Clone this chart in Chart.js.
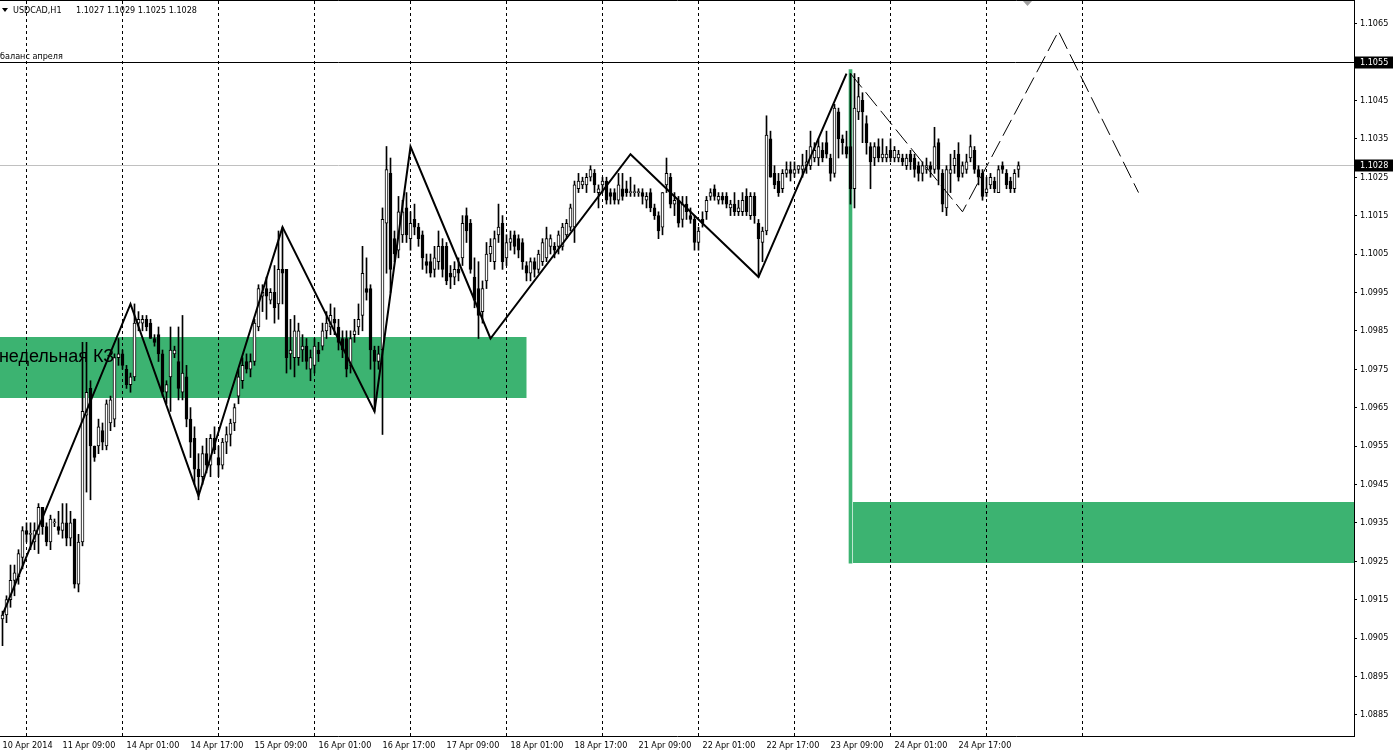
<!DOCTYPE html>
<html lang="ru">
<head>
<meta charset="UTF-8">
<title>USDCAD,H1</title>
<script src="https://cdn.jsdelivr.net/npm/chart.js"></script>
<style>
  html, body { margin: 0; padding: 0; background: #fff; }
  #wrap { width: 1394px; height: 752px; }
</style>
</head>
<body>
<div id="wrap"><canvas id="chart" width="1394" height="752"></canvas></div>
<script>
// USDCAD H1 bars (one entry per hourly bar)
const openP = [
  1.0910,1.0911,1.0915,1.0920,1.0921,1.0926,1.0933,1.0932,1.0930,1.0932,
  1.0939,1.0934,1.0930,1.0935,1.0934,1.0933,1.0935,1.0931,1.0936,1.0919,
  1.0930,1.0963,1.0970,1.0955,1.0955,1.0959,1.0955,1.0961,1.0962,1.0978,
  1.0979,1.0975,1.0971,1.0973,1.0987,1.0987,1.0988,1.0987,1.0983,1.0984,
  1.0979,1.0969,1.0973,1.0979,1.0977,1.0969,1.0973,1.0962,1.0957,1.0949,
  1.0947,1.0953,1.0950,1.0957,1.0952,1.0950,1.0956,1.0958,1.0961,1.0968,
  1.0972,1.0977,1.0975,1.0977,1.0986,1.0994,1.0996,1.0993,1.0995,1.0992,
  1.1001,1.1001,1.0979,1.0978,1.0978,1.0980,1.0981,1.0975,1.0976,1.0980,
  1.0981,1.0985,1.0986,1.0988,1.0986,1.0983,1.0983,1.0976,1.0984,1.0986,
  1.0989,1.0996,1.0996,1.0980,1.0977,1.0980,1.1013,1.1026,1.1009,1.1006,
  1.1010,1.1017,1.1009,1.1014,1.1012,1.1010,1.1003,1.1003,1.1001,1.1003,
  1.1007,1.1007,1.1000,1.0999,1.1001,1.1004,1.1015,1.1013,1.0999,1.0996,
  1.0990,1.0998,1.1005,1.1003,1.1010,1.1013,1.1004,1.1008,1.1010,1.1009,
  1.1008,1.1002,1.1000,1.1003,1.1001,1.1003,1.1004,1.1007,1.1007,1.1007,
  1.1007,1.1010,1.1012,1.1012,1.1022,1.1023,1.1023,1.1025,1.1026,1.1021,
  1.1023,1.1024,1.1021,1.1021,1.1019,1.1022,1.1022,1.1021,1.1021,1.1021,
  1.1021,1.1019,1.1021,1.1017,1.1015,1.1012,1.1023,1.1025,1.1018,1.1019,
  1.1014,1.1018,1.1015,1.1014,1.1008,1.1014,1.1016,1.1020,1.1022,1.1019,
  1.1020,1.1020,1.1017,1.1018,1.1016,1.1016,1.1020,1.1015,1.1020,1.1013,
  1.1008,1.1011,1.1035,1.1026,1.1024,1.1022,1.1026,1.1027,1.1026,1.1027,
  1.1027,1.1028,1.1028,1.1030,1.1030,1.1032,1.1034,1.1030,1.1026,1.1042,
  1.1035,1.1033,1.1033,1.1022,1.1042,1.1045,1.1039,1.1033,1.1030,1.1033,
  1.1030,1.1030,1.1032,1.1030,1.1030,1.1030,1.1028,1.1031,1.1030,1.1028,
  1.1026,1.1027,1.1028,1.1027,1.1034,1.1026,1.1017,1.1026,1.1028,1.1031,
  1.1026,1.1027,1.1030,1.1032,1.1027,1.1026,1.1021,1.1023,1.1024,1.1021,
  1.1028,1.1026,1.1024,1.1022,1.1027
];
const highP = [
  1.0912,1.0916,1.0924,1.0924,1.0928,1.0934,1.0935,1.0935,1.0935,1.0940,
  1.0939,1.0935,1.0937,1.0936,1.0938,1.0940,1.0940,1.0938,1.0936,1.0932,
  1.0982,1.0982,1.0972,1.0955,1.0962,1.0961,1.0967,1.0968,1.0979,1.0983,
  1.0980,1.0976,1.0974,1.0992,1.0990,1.0989,1.0989,1.0988,1.0984,1.0986,
  1.0980,1.0972,1.0986,1.0981,1.0986,1.0989,1.0976,1.0965,1.0960,1.0953,
  1.0955,1.0957,1.0958,1.0960,1.0955,1.0957,1.0960,1.0962,1.0966,1.0975,
  1.0978,1.0979,1.0979,1.0988,1.0997,1.0997,1.0999,1.0996,1.1002,1.1011,
  1.1012,1.1001,1.0988,1.0989,1.0987,1.0984,1.0983,1.0980,1.0983,1.0982,
  1.0987,1.0990,1.0992,1.0991,1.0988,1.0985,1.0985,1.0985,1.0988,1.0992,
  1.1007,1.1004,1.0997,1.0981,1.0981,1.1017,1.1033,1.1030,1.1011,1.1020,
  1.1019,1.1021,1.1016,1.1018,1.1013,1.1011,1.1005,1.1005,1.1007,1.1011,
  1.1009,1.1008,1.1002,1.1003,1.1004,1.1015,1.1017,1.1014,1.1004,1.1003,
  1.0998,1.1008,1.1009,1.1011,1.1018,1.1015,1.1010,1.1011,1.1011,1.1010,
  1.1009,1.1003,1.1004,1.1004,1.1006,1.1009,1.1012,1.1010,1.1008,1.1011,
  1.1013,1.1014,1.1018,1.1024,1.1026,1.1025,1.1026,1.1028,1.1027,1.1023,
  1.1025,1.1025,1.1022,1.1022,1.1026,1.1026,1.1024,1.1025,1.1023,1.1022,
  1.1022,1.1021,1.1022,1.1018,1.1016,1.1021,1.1030,1.1026,1.1021,1.1020,
  1.1020,1.1020,1.1017,1.1015,1.1012,1.1016,1.1020,1.1022,1.1023,1.1021,
  1.1021,1.1021,1.1019,1.1021,1.1019,1.1021,1.1022,1.1021,1.1021,1.1014,
  1.1012,1.1041,1.1037,1.1028,1.1026,1.1027,1.1029,1.1029,1.1029,1.1028,
  1.1031,1.1032,1.1037,1.1034,1.1035,1.1034,1.1037,1.1031,1.1044,1.1043,
  1.1036,1.1037,1.1052,1.1052,1.1051,1.1047,1.1041,1.1034,1.1034,1.1035,
  1.1035,1.1033,1.1035,1.1033,1.1032,1.1031,1.1031,1.1032,1.1031,1.1029,
  1.1029,1.1030,1.1029,1.1038,1.1035,1.1027,1.1028,1.1031,1.1032,1.1034,
  1.1029,1.1031,1.1036,1.1033,1.1028,1.1027,1.1025,1.1026,1.1025,1.1028,
  1.1029,1.1027,1.1025,1.1027,1.1029
];
const lowP = [
  1.0903,1.0909,1.0913,1.0916,1.0919,1.0923,1.0930,1.0928,1.0928,1.0927,
  1.0932,1.0929,1.0928,1.0934,1.0932,1.0931,1.0929,1.0929,1.0918,1.0917,
  1.0929,1.0943,1.0941,1.0951,1.0953,1.0954,1.0954,1.0959,1.0960,1.0976,
  1.0975,1.0970,1.0969,1.0972,1.0985,1.0985,1.0985,1.0983,1.0981,1.0977,
  1.0968,1.0966,1.0964,1.0978,1.0967,1.0967,1.0960,1.0952,1.0945,1.0941,
  1.0945,1.0948,1.0947,1.0953,1.0947,1.0949,1.0953,1.0955,1.0959,1.0966,
  1.0970,1.0974,1.0973,1.0976,1.0985,1.0990,1.0988,1.0992,1.0987,1.0988,
  1.0992,1.0974,1.0975,1.0973,1.0976,1.0977,1.0975,1.0972,1.0974,1.0977,
  1.0980,1.0983,1.0984,1.0984,1.0980,1.0978,1.0973,1.0974,1.0982,1.0984,
  1.0985,1.0993,1.0975,1.0964,1.0975,1.0958,1.1000,1.0995,1.1003,1.1004,
  1.1008,1.1008,1.1006,1.1010,1.1007,1.1001,1.1000,1.0999,1.0999,1.1001,
  1.0999,1.0997,1.0996,1.0997,1.0998,1.1002,1.1008,1.1000,1.0991,1.0983,
  1.0987,1.0996,1.1003,1.1001,1.1008,1.1001,1.1002,1.1006,1.1005,1.1004,
  1.1001,1.0998,1.0998,1.0999,1.1000,1.1002,1.1003,1.1005,1.1004,1.1005,
  1.1006,1.1009,1.1011,1.1008,1.1021,1.1022,1.1021,1.1024,1.1021,1.1017,
  1.1021,1.1018,1.1018,1.1018,1.1018,1.1019,1.1020,1.1020,1.1020,1.1020,
  1.1018,1.1017,1.1016,1.1014,1.1009,1.1010,1.1021,1.1017,1.1015,1.1012,
  1.1012,1.1014,1.1013,1.1006,1.1006,1.1012,1.1014,1.1019,1.1019,1.1018,
  1.1018,1.1017,1.1015,1.1015,1.1015,1.1015,1.1015,1.1014,1.1013,1.0999,
  1.1003,1.1010,1.1025,1.1022,1.1020,1.1021,1.1025,1.1024,1.1025,1.1026,
  1.1025,1.1026,1.1027,1.1029,1.1028,1.1029,1.1030,1.1024,1.1025,1.1030,
  1.1031,1.1030,1.1018,1.1017,1.1040,1.1034,1.1031,1.1022,1.1028,1.1029,
  1.1029,1.1029,1.1029,1.1029,1.1029,1.1028,1.1027,1.1027,1.1025,1.1024,
  1.1024,1.1026,1.1025,1.1026,1.1023,1.1016,1.1015,1.1021,1.1026,1.1024,
  1.1025,1.1026,1.1029,1.1026,1.1023,1.1019,1.1020,1.1022,1.1021,1.1021,
  1.1026,1.1022,1.1021,1.1021,1.1025
];
const closeP = [
  1.0911,1.0915,1.0920,1.0922,1.0927,1.0933,1.0932,1.0932,1.0933,1.0939,
  1.0934,1.0930,1.0936,1.0935,1.0933,1.0935,1.0931,1.0935,1.0919,1.0930,
  1.0964,1.0969,1.0955,1.0952,1.0960,1.0956,1.0966,1.0967,1.0978,1.0979,
  1.0976,1.0971,1.0973,1.0987,1.0988,1.0988,1.0986,1.0983,1.0982,1.0979,
  1.0969,1.0971,1.0980,1.0980,1.0970,1.0974,1.0962,1.0956,1.0949,1.0947,
  1.0953,1.0950,1.0957,1.0954,1.0950,1.0956,1.0958,1.0961,1.0965,1.0973,
  1.0976,1.0975,1.0977,1.0987,1.0996,1.0995,1.0994,1.0995,1.0991,1.1001,
  1.1000,1.0978,1.0980,1.0985,1.0985,1.0981,1.0977,1.0978,1.0981,1.0979,
  1.0985,1.0987,1.0989,1.0987,1.0982,1.0980,1.0975,1.0983,1.0985,1.0988,
  1.1000,1.0995,1.0980,1.0977,1.0979,1.1014,1.1027,1.1001,1.1005,1.1016,
  1.1016,1.1010,1.1013,1.1012,1.1009,1.1004,1.1002,1.1000,1.1004,1.1007,
  1.1001,1.0998,1.0999,1.1001,1.1000,1.1013,1.1011,1.1001,1.0993,1.0989,
  1.0996,1.1005,1.1007,1.1009,1.1012,1.1003,1.1008,1.1009,1.1007,1.1006,
  1.1003,1.1000,1.1003,1.1001,1.1005,1.1008,1.1009,1.1009,1.1006,1.1010,
  1.1012,1.1013,1.1017,1.1023,1.1024,1.1024,1.1025,1.1027,1.1023,1.1022,
  1.1024,1.1019,1.1020,1.1019,1.1023,1.1020,1.1021,1.1021,1.1021,1.1021,
  1.1020,1.1020,1.1017,1.1015,1.1011,1.1021,1.1026,1.1018,1.1019,1.1013,
  1.1018,1.1016,1.1014,1.1008,1.1011,1.1013,1.1019,1.1021,1.1020,1.1020,
  1.1019,1.1018,1.1018,1.1016,1.1017,1.1019,1.1016,1.1020,1.1015,1.1009,
  1.1011,1.1036,1.1025,1.1023,1.1021,1.1026,1.1027,1.1026,1.1027,1.1028,
  1.1028,1.1029,1.1033,1.1032,1.1033,1.1030,1.1031,1.1026,1.1043,1.1035,
  1.1034,1.1031,1.1022,1.1043,1.1046,1.1042,1.1034,1.1029,1.1033,1.1030,
  1.1031,1.1031,1.1030,1.1032,1.1031,1.1029,1.1030,1.1029,1.1027,1.1026,
  1.1028,1.1028,1.1027,1.1033,1.1027,1.1018,1.1027,1.1027,1.1030,1.1025,
  1.1028,1.1029,1.1033,1.1027,1.1025,1.1020,1.1022,1.1025,1.1022,1.1027,
  1.1027,1.1023,1.1022,1.1026,1.1028
];

// axis labels
const priceTicks = [1.0885, 1.0895, 1.0905, 1.0915, 1.0925, 1.0935, 1.0945, 1.0955, 1.0965, 1.0975,
  1.0985, 1.0995, 1.1005, 1.1015, 1.1025, 1.1035, 1.1045, 1.1055, 1.1065];
const timeLabels = ['10 Apr 2014', '11 Apr 09:00', '14 Apr 01:00', '14 Apr 17:00', '15 Apr 09:00',
  '16 Apr 01:00', '16 Apr 17:00', '17 Apr 09:00', '18 Apr 01:00', '18 Apr 17:00', '21 Apr 09:00',
  '22 Apr 01:00', '22 Apr 17:00', '23 Apr 09:00', '24 Apr 01:00', '24 Apr 17:00'];
const labelBars = [0, 15, 31, 47, 63, 79, 95, 111, 127, 143, 159, 175, 191, 207, 223, 239];
const gridBars = [6, 30, 54, 78, 102, 126, 150, 174, 198, 222, 246, 270];

// drawn objects: zigzag, forecast, levels, zones
const zigzagBars = [0, 32, 49, 70, 93, 102, 122, 157, 189, 211];
const zigzagPrices = [1.0911, 1.0992, 1.0942, 1.1012, 1.0964, 1.1033, 1.0983, 1.1031, 1.0999, 1.1052];
const forecastBars = [212, 240, 264, 284];
const forecastPrices = [1.1052, 1.1016, 1.1063, 1.1021];
const balanceLevel = 1.1055;
const weeklyZone = [1.09675, 1.09835];
const weeklyZoneBars = [-10, 131];
const lowerZone = [1.09245, 1.09405];
const lowerZoneBars = [212.625, 400];
const markerBar = 212;
const markerRange = [1.09245, 1.1053];

const GREEN = '#3cb371';
const UI_FONT = '"DejaVu Sans Condensed", "Liberation Sans", sans-serif';

const last = closeP.length - 1;
const lastPrice = closeP[last];

const wicks = highP.map((h, i) => ({ x: i, y: [lowP[i], h] }));
const bodies = openP.map((o, i) => ({ x: i, y: [o, closeP[i]] }));
const bodyColors = openP.map((o, i) => closeP[i] >= o ? '#ffffff' : '#000000');

const overlay = {
  id: 'overlay',
  beforeDatasetsDraw(chart) {
    const { ctx, chartArea: a, scales: { x, y } } = chart;
    ctx.save();
    ctx.beginPath();
    ctx.rect(a.left, a.top, a.right - a.left, a.bottom - a.top);
    ctx.clip();

    // zones
    ctx.fillStyle = GREEN;
    [[weeklyZone, weeklyZoneBars], [lowerZone, lowerZoneBars]].forEach(([pr, br]) => {
      const x0 = x.getPixelForValue(br[0]), x1 = x.getPixelForValue(br[1]);
      const y0 = Math.round(y.getPixelForValue(pr[1])), y1 = Math.round(y.getPixelForValue(pr[0]));
      ctx.fillRect(x0, y0, x1 - x0, y1 - y0);
    });

    ctx.fillStyle = '#000';
    ctx.font = '18px "Liberation Sans", Arial, sans-serif';
    ctx.textBaseline = 'alphabetic';
    ctx.fillText('недельная КЗ', x.getPixelForValue(-0.9), y.getPixelForValue(1.0977));

    // vertical grid
    ctx.strokeStyle = '#000';
    ctx.lineWidth = 1;
    ctx.setLineDash([3, 3]);
    gridBars.forEach(b => {
      const px = Math.floor(x.getPixelForValue(b)) + 0.5;
      ctx.beginPath();
      ctx.moveTo(px, a.top);
      ctx.lineTo(px, a.bottom);
      ctx.stroke();
    });
    ctx.setLineDash([]);

    // horizontal levels
    const yb = Math.floor(y.getPixelForValue(balanceLevel)) + 0.5;
    ctx.strokeStyle = '#000';
    ctx.beginPath(); ctx.moveTo(a.left, yb); ctx.lineTo(a.right, yb); ctx.stroke();
    const yl = Math.floor(y.getPixelForValue(lastPrice)) + 0.5;
    ctx.strokeStyle = '#c0c0c0';
    ctx.beginPath(); ctx.moveTo(a.left, yl); ctx.lineTo(a.right, yl); ctx.stroke();

    ctx.fillStyle = '#000';
    ctx.font = '9px ' + UI_FONT;
    ctx.fillText('баланс апреля', a.left, yb - 3.5);
    ctx.restore();
  },
  afterDraw(chart) {
    const { ctx, chartArea: a, scales: { x, y } } = chart;
    ctx.save();
    // top frame line
    ctx.strokeStyle = '#000';
    ctx.lineWidth = 1;
    ctx.beginPath(); ctx.moveTo(a.left, a.top - 0.5); ctx.lineTo(a.right + 1, a.top - 0.5); ctx.stroke();

    // highlighted price labels
    ctx.font = '9px ' + UI_FONT;
    ctx.textBaseline = 'middle';
    [balanceLevel, lastPrice].forEach(v => {
      const py = Math.floor(y.getPixelForValue(v)) + 0.5;
      ctx.fillStyle = '#000';
      ctx.fillRect(a.right + 1, py - 6, 38, 12);
      ctx.fillStyle = '#fff';
      ctx.fillText(v.toFixed(4), a.right + 6, py);
    });

    // header
    ctx.fillStyle = '#000';
    ctx.beginPath();
    ctx.moveTo(2, 8); ctx.lineTo(8, 8); ctx.lineTo(5, 12); ctx.closePath(); ctx.fill();
    ctx.textBaseline = 'alphabetic';
    ctx.fillText('USDCAD,H1', 13, 13);
    ctx.fillText([openP[last], highP[last], lowP[last], closeP[last]].map(v => v.toFixed(4)).join(' '), 76, 13);

    // chart shift marker
    const sx = x.getPixelForValue(last + 2.25);
    ctx.fillStyle = '#a0a0a0';
    ctx.beginPath();
    ctx.moveTo(sx - 4.5, a.top); ctx.lineTo(sx + 4.5, a.top); ctx.lineTo(sx, a.top + 5); ctx.closePath(); ctx.fill();
    ctx.restore();
  }
};

new Chart(document.getElementById('chart').getContext('2d'), {
  type: 'bar',
  data: {
    datasets: [
      {
        type: 'line',
        data: zigzagBars.map((b, k) => ({ x: b, y: zigzagPrices[k] })),
        borderColor: '#000', borderWidth: 2, pointRadius: 0, tension: 0, order: 0
      },
      {
        type: 'line',
        data: forecastBars.map((b, k) => ({ x: b, y: forecastPrices[k] })),
        borderColor: '#000', borderWidth: 1, borderDash: [18, 6], pointRadius: 0, tension: 0, order: 0
      },
      {
        data: bodies, backgroundColor: bodyColors, borderColor: '#000', borderWidth: 1,
        borderSkipped: false, barThickness: 3, minBarLength: 1, grouped: false, order: 1
      },
      {
        data: wicks, backgroundColor: '#000', borderWidth: 0, barThickness: 1, grouped: false, order: 2
      },
      {
        data: [{ x: markerBar, y: markerRange }], backgroundColor: GREEN, borderWidth: 0,
        barThickness: 3, grouped: false, order: 3
      }
    ]
  },
  options: {
    responsive: false,
    animation: false,
    devicePixelRatio: 1,
    layout: { padding: { top: 1, left: 0, right: 0, bottom: 0 }, autoPadding: false },
    plugins: { legend: { display: false }, tooltip: { enabled: false } },
    scales: {
      x: {
        type: 'linear', position: 'bottom', offset: false,
        min: -0.625, max: 337.875,
        afterBuildTicks: s => { s.ticks = labelBars.map(v => ({ value: v })); },
        afterFit: s => { s.height = 16; s.paddingLeft = 0; s.paddingRight = 0; },
        grid: { drawOnChartArea: false, drawTicks: false, offset: false },
        border: { color: '#000', width: 1 },
        ticks: {
          autoSkip: false, maxRotation: 0, minRotation: 0, align: 'start', padding: 4,
          color: '#000', font: { family: UI_FONT, size: 9 },
          callback: (v, i) => timeLabels[i]
        }
      },
      y: {
        type: 'linear', position: 'right',
        min: 1.087948, max: 1.107089,
        afterBuildTicks: s => { s.ticks = priceTicks.map(v => ({ value: v })); },
        afterFit: s => { s.width = 40; s.paddingTop = 0; s.paddingBottom = 0; },
        grid: { drawOnChartArea: false, drawTicks: true, tickLength: 3, color: '#000' },
        border: { color: '#000', width: 1 },
        ticks: {
          padding: 3, color: '#000', font: { family: UI_FONT, size: 9 },
          callback: v => v.toFixed(4)
        }
      }
    }
  },
  plugins: [overlay]
});
</script>
</body>
</html>
